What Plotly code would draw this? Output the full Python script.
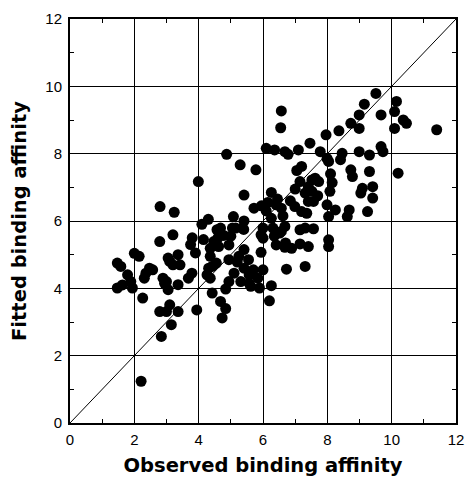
import plotly.graph_objects as go

observed = [
    2.21, 2.84, 3.15, 2.79, 3.00, 3.36, 3.94, 3.10, 2.26, 1.47, 1.63, 1.94, 1.89, 1.79, 2.31, 2.36,
    2.47, 2.57, 2.89, 2.94, 3.05, 3.36, 3.00, 3.68, 3.79, 1.47, 1.58, 2.00, 2.15, 3.10, 3.20, 3.42,
    3.36, 3.05, 3.90, 3.75, 3.80, 2.79, 3.20, 2.80, 3.24, 3.99,
    4.10, 4.30, 4.57, 4.68, 4.78, 4.47, 4.52, 4.36, 4.62, 4.94, 5.05, 5.15, 5.36, 5.40, 5.41, 5.08,
    4.36, 4.31, 4.42, 4.36, 4.26, 4.94, 5.20, 5.41, 5.41, 5.57, 5.84, 6.00, 4.94, 5.31, 5.57, 4.84,
    5.62, 5.89, 6.26, 4.42, 4.68, 4.84, 4.73, 6.20,
    5.72, 6.15, 6.57, 6.26, 6.00, 5.94, 6.00, 6.31, 6.57, 6.68, 6.41, 6.68, 6.89, 5.94, 6.73, 7.31,
    5.41, 6.26, 6.41, 6.62, 6.99, 7.20, 7.15, 7.57, 7.31, 7.41, 7.15, 6.70, 6.52, 8.04, 8.04,
    4.87, 5.29, 5.78, 6.10, 6.36, 6.68, 6.78, 7.10, 7.46, 7.78, 7.96, 8.36, 8.04, 7.20, 8.10, 7.15,
    7.52, 7.73, 8.15, 8.08, 7.52, 7.31, 6.57, 6.55, 7.41, 7.62, 7.41, 7.57, 7.36, 7.99, 8.25, 8.04,
    9.51, 9.15, 8.99, 8.73, 8.99, 7.99, 8.46, 8.41, 8.99, 9.31, 9.67, 9.73, 10.15, 10.09, 10.36,
    10.46, 10.09, 11.40, 9.67, 10.20, 8.73, 8.78, 9.31, 9.09, 9.41, 9.04, 9.41, 8.68, 9.25, 8.62,
    4.60, 4.15, 5.00, 5.25, 5.55, 5.70, 6.10, 6.45, 6.85, 7.00, 4.55, 5.10, 5.95, 6.35, 7.05, 7.70,
]
fitted = [
    1.24, 2.57, 2.92, 3.31, 3.31, 3.31, 3.36, 3.51, 3.71, 4.01, 4.10, 4.01, 4.20, 4.40, 4.30, 4.45,
    4.60, 4.55, 4.30, 4.15, 3.96, 4.11, 4.20, 4.30, 4.45, 4.75, 4.65, 5.04, 4.95, 4.80, 4.70, 4.70,
    5.00, 4.90, 5.05, 5.30, 5.50, 5.39, 5.59, 6.43, 6.26, 7.17,
    5.90, 6.05, 5.74, 5.79, 5.57, 5.39, 5.29, 5.19, 5.24, 5.29, 5.79, 5.79, 5.79, 5.75, 6.00, 6.13,
    4.95, 4.60, 4.65, 4.30, 4.40, 4.85, 4.78, 4.60, 5.15, 4.40, 4.30, 4.55, 4.20, 4.20, 4.15, 3.98,
    4.06, 4.01, 4.08, 3.86, 3.61, 3.40, 3.12, 3.63,
    6.38, 6.55, 6.38, 6.08, 5.79, 5.59, 5.49, 5.79, 5.69, 5.84, 5.29, 5.22, 5.19, 5.07, 4.57, 4.65,
    6.77, 6.85, 6.48, 6.15, 6.43, 6.28, 5.74, 5.77, 5.79, 5.24, 5.32, 5.35, 5.64, 5.44, 5.24,
    7.98, 7.67, 7.52, 8.16, 8.11, 8.06, 7.98, 8.11, 8.31, 8.06, 8.56, 8.68, 7.77, 7.62, 7.40, 7.17,
    7.22, 7.17, 7.14, 6.88, 6.88, 6.83, 9.27, 8.77, 7.02, 7.27, 6.58, 6.58, 6.23, 6.48, 6.33, 6.13,
    9.79, 9.47, 9.15, 8.90, 8.75, 7.86, 8.01, 7.82, 8.06, 7.96, 8.21, 8.06, 9.55, 9.25, 9.00,
    8.90, 8.75, 8.71, 9.15, 7.42, 7.52, 7.32, 7.47, 6.97, 7.02, 6.83, 6.68, 6.33, 6.28, 6.13,
    5.50, 5.45, 5.55, 4.95, 4.85, 4.55, 6.30, 6.65, 6.60, 6.95, 4.75, 4.45, 6.45, 5.55, 7.50, 6.75,
]

diag = [0, 12]

fig = go.Figure()
fig.add_trace(go.Scatter(x=diag, y=diag, mode="lines",
                         line=dict(color="black", width=1), hoverinfo="skip"))
fig.add_trace(go.Scatter(x=observed, y=fitted, mode="markers",
                         marker=dict(color="black", size=11, line=dict(width=0))))

axis_common = dict(
    range=[0, 12], dtick=2, tick0=0, automargin=False,
    showgrid=True, gridcolor="black", gridwidth=1,
    showline=True, linecolor="black", linewidth=2, mirror="allticks",
    ticks="", zeroline=False, ticklabeloverflow="allow",
    minor=dict(dtick=1, tick0=1, ticks="inside", ticklen=4, tickcolor="black", tickwidth=1, showgrid=False),
    tickfont=dict(family="Liberation Sans, Arial", size=15, color="black"),
)

fig.update_layout(
    width=465, height=481,
    margin=dict(l=70, r=9, t=19, b=58),
    paper_bgcolor="white", plot_bgcolor="white",
    showlegend=False,
    xaxis=dict(**axis_common, ticklabelstandoff=2,
               title=dict(text="<b>Observed binding affinity</b>", standoff=11,
                          font=dict(family="DejaVu Sans, Arial Black", size=19.5, color="black"))),
    yaxis=dict(**axis_common, ticklabelstandoff=3,
               title=dict(text="<b>Fitted binding affinity</b>", standoff=13,
                          font=dict(family="DejaVu Sans, Arial Black", size=19.5, color="black"))),
)

# remove the default 8 px page margin so the figure fills the window exactly
fig.write_html("out.html",
               config={"displayModeBar": False},
               post_script="document.body.style.margin='0';document.body.style.overflow='hidden';")
